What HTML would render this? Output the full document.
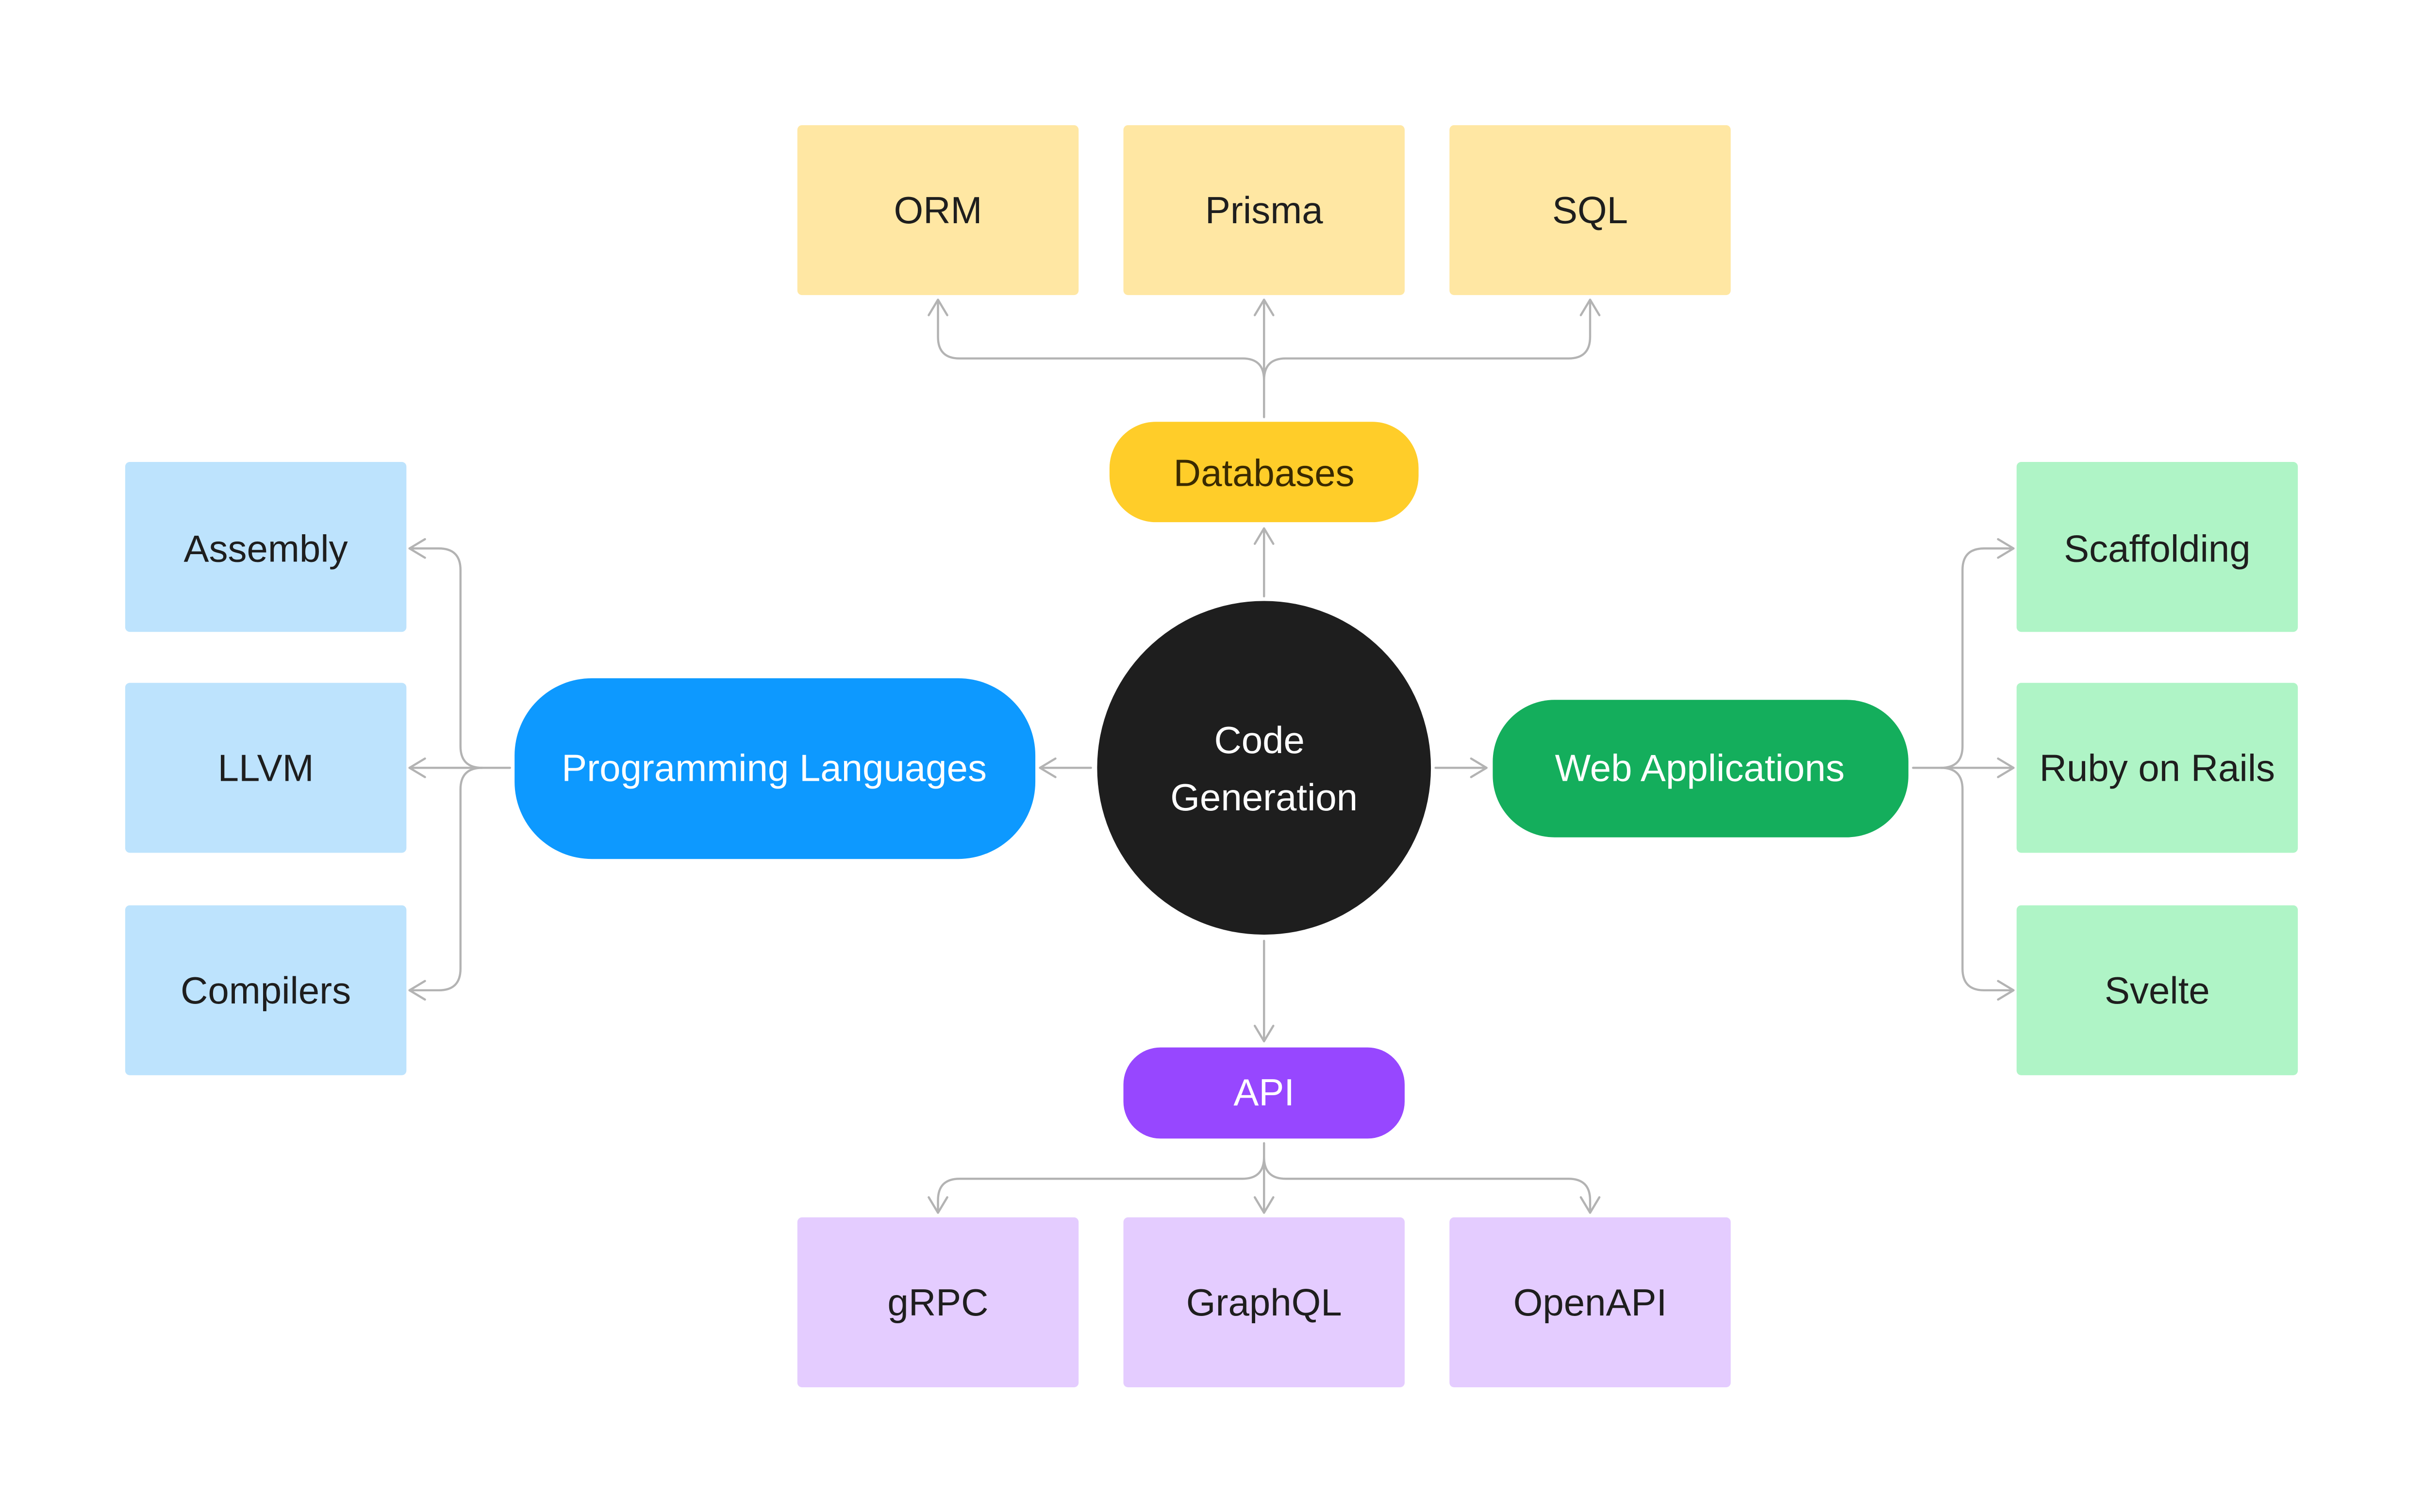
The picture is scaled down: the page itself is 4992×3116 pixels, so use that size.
<!DOCTYPE html>
<html><head><meta charset="utf-8"><style>
html,body{margin:0;padding:0;background:#fff;}
svg{display:block}
text{font-family:"Liberation Sans",sans-serif;font-size:24.5px;text-anchor:middle;dominant-baseline:central;}
</style></head><body>
<svg width="4992" height="3116" viewBox="0 0 1568 978.7" xmlns="http://www.w3.org/2000/svg">
<rect width="1568" height="978.7" fill="#fff"/>
<g fill="none" stroke="#b3b3b3" stroke-width="1.4" stroke-linecap="round" stroke-linejoin="round">
<path d="M818 270 V246 Q818 232 804 232 H621 Q607 232 607 218 V194"/>
<path d="M818 246 Q818 232 832 232 H1015 Q1029 232 1029 218 V194"/>
<path d="M818 246 V194"/>
<path d="M601 204 L607 194 L613 204 M812 204 L818 194 L824 204 M1023 204 L1029 194 L1035 204"/>
<path d="M818 386 V342 M812 352 L818 342 L824 352"/>
<path d="M818 609 V674 M812 664 L818 674 L824 664"/>
<path d="M818 740 V749 Q818 763 804 763 H621 Q607 763 607 777 V785"/>
<path d="M818 749 Q818 763 832 763 H1015 Q1029 763 1029 777 V785"/>
<path d="M818 749 V785"/>
<path d="M601 775 L607 785 L613 775 M812 775 L818 785 L824 775 M1023 775 L1029 785 L1035 775"/>
<path d="M706 497 H673 M683 491 L673 497 L683 503"/>
<path d="M330 497 H312 Q298 497 298 483 V369 Q298 355 284 355 H265"/>
<path d="M312 497 Q298 497 298 511 V627 Q298 641 284 641 H265"/>
<path d="M312 497 H265"/>
<path d="M275 349 L265 355 L275 361 M275 491 L265 497 L275 503 M275 635 L265 641 L275 647"/>
<path d="M929 497 H962 M952 491 L962 497 L952 503"/>
<path d="M1238 497 H1256 Q1270 497 1270 483 V369 Q1270 355 1284 355 H1303"/>
<path d="M1256 497 Q1270 497 1270 511 V627 Q1270 641 1284 641 H1303"/>
<path d="M1256 497 H1303"/>
<path d="M1293 349 L1303 355 L1293 361 M1293 491 L1303 497 L1293 503 M1293 635 L1303 641 L1293 647"/>
</g>
<g fill="#ffe7a3">
<rect x="516" y="81" width="182" height="110" rx="3"/>
<rect x="727" y="81" width="182" height="110" rx="3"/>
<rect x="938" y="81" width="182" height="110" rx="3"/>
</g>
<rect x="718" y="273" width="200" height="65" rx="30" fill="#ffcd29"/>
<g fill="#bde3fd">
<rect x="81" y="299" width="182" height="110" rx="3"/>
<rect x="81" y="442" width="182" height="110" rx="3"/>
<rect x="81" y="586" width="182" height="110" rx="3"/>
</g>
<rect x="333" y="439" width="337" height="117" rx="50" fill="#0d99ff"/>
<g fill="#aff4c6">
<rect x="1305" y="299" width="182" height="110" rx="3"/>
<rect x="1305" y="442" width="182" height="110" rx="3"/>
<rect x="1305" y="586" width="182" height="110" rx="3"/>
</g>
<rect x="966" y="453" width="269" height="89" rx="40" fill="#14ae5c"/>
<rect x="727" y="678" width="182" height="59" rx="24" fill="#9747ff"/>
<g fill="#e4ccff">
<rect x="516" y="788" width="182" height="110" rx="3"/>
<rect x="727" y="788" width="182" height="110" rx="3"/>
<rect x="938" y="788" width="182" height="110" rx="3"/>
</g>
<circle cx="818" cy="497" r="108" fill="#1e1e1e"/>
<g fill="#1e1e1e">
<text x="607" y="136">ORM</text>
<text x="818" y="136">Prisma</text>
<text x="1029" y="136">SQL</text>
<text x="818" y="306" fill="#3a2a00">Databases</text>
<text x="172" y="355">Assembly</text>
<text x="172" y="497">LLVM</text>
<text x="172" y="641">Compilers</text>
<text x="1396" y="355">Scaffolding</text>
<text x="1396" y="497">Ruby on Rails</text>
<text x="1396" y="641">Svelte</text>
<text x="607" y="843">gRPC</text>
<text x="818" y="843">GraphQL</text>
<text x="1029" y="843">OpenAPI</text>
</g>
<g fill="#fff">
<text x="501" y="497">Programming Languages</text>
<text x="1100" y="497">Web Applications</text>
<text x="818" y="707">API</text>
<text x="815" y="479">Code</text>
<text x="818" y="516">Generation</text>
</g>
</svg>
</body></html>
